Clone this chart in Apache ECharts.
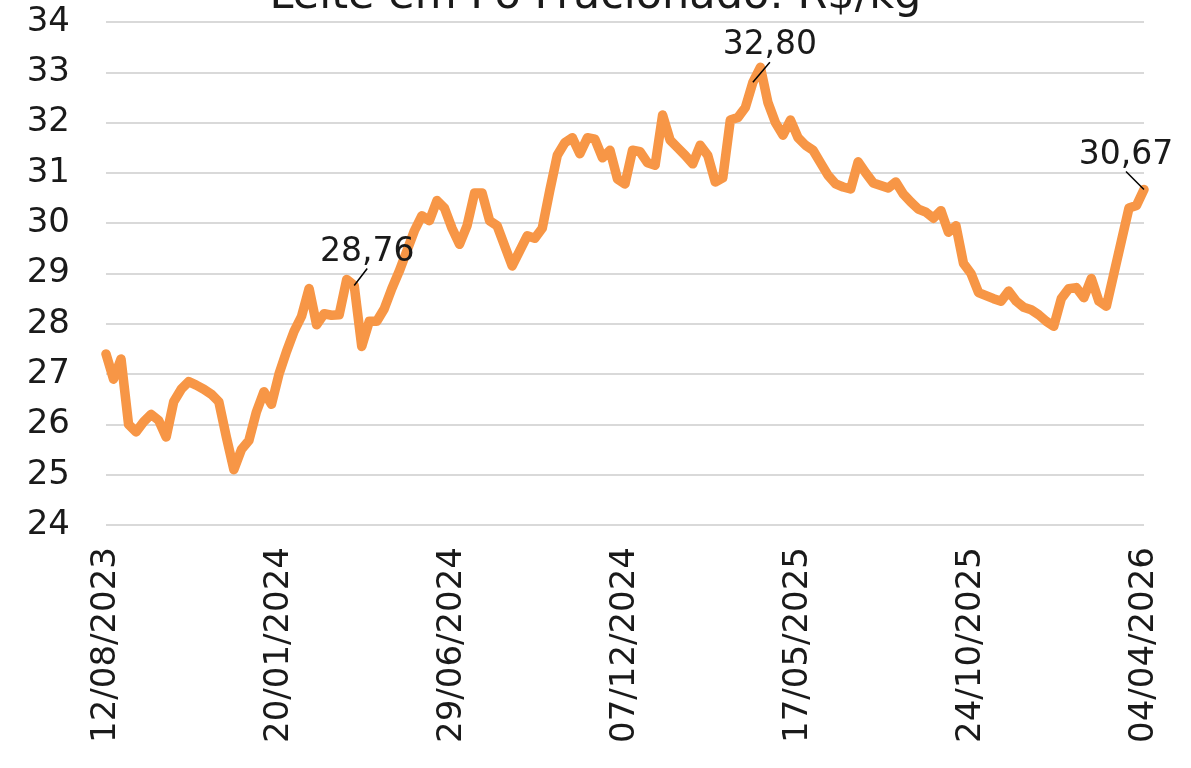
<!DOCTYPE html>
<html>
<head>
<meta charset="utf-8">
<script src="https://cdn.jsdelivr.net/npm/echarts@6/dist/echarts.min.js"></script>
<style>html,body{margin:0;padding:0;background:#fff;}#c{width:1191px;height:768px;}</style>
</head>
<body>
<div id="c"></div>
<script>
const titleText = 'Leite em Pó Fracionado: R$/kg';
const startDate = '2023-08-12';
const tickLabels = ['12/08/2023','20/01/2024','29/06/2024','07/12/2024','17/05/2025','24/10/2025','04/04/2026'];
const tickEvery = 23;
const values = [
  27.4, 26.9, 27.3, 26.0, 25.85, 26.05, 26.2, 26.08, 25.75, 26.45,
  26.7, 26.85, 26.78, 26.7, 26.6, 26.45, 25.75, 25.1, 25.5, 25.68,
  26.25, 26.65, 26.4, 27.0, 27.45, 27.85, 28.15, 28.7, 27.98, 28.2,
  28.17, 28.18, 28.88, 28.76, 27.55, 28.05, 28.05, 28.3, 28.7, 29.05,
  29.45, 29.85, 30.15, 30.05, 30.45, 30.3, 29.9, 29.58, 29.95, 30.6,
  30.6, 30.05, 29.95, 29.55, 29.15, 29.45, 29.75, 29.7, 29.9, 30.65,
  31.35, 31.6, 31.7, 31.38, 31.7, 31.67, 31.3, 31.45, 30.88, 30.78,
  31.45, 31.42, 31.2, 31.15, 32.15, 31.65, 31.5, 31.35, 31.18, 31.55,
  31.35, 30.82, 30.9, 32.05, 32.1, 32.3, 32.8, 33.1, 32.4, 32.0,
  31.75, 32.05, 31.7, 31.55, 31.45, 31.2, 30.95, 30.78, 30.72, 30.68,
  31.22, 31.0, 30.8, 30.75, 30.7, 30.82, 30.58, 30.42, 30.28, 30.22,
  30.1, 30.25, 29.82, 29.95, 29.2, 29.0, 28.62, 28.56, 28.5, 28.45,
  28.65, 28.45, 28.33, 28.28, 28.18, 28.05, 27.95, 28.5, 28.7, 28.72,
  28.52, 28.9, 28.45, 28.35, 29.0, 29.65, 30.3, 30.35, 30.67
];
const annotated = [33, 86, 138];
const yMin = 24, yMax = 34, yStep = 1;

// categories (weekly)
const categories = [];
{
  const d0 = new Date(startDate + 'T12:00:00Z');
  for (let i = 0; i < values.length; i++) {
    const d = new Date(d0.getTime() + i * 7 * 86400000);
    const s = String(d.getUTCDate()).padStart(2,'0') + '/' + String(d.getUTCMonth()+1).padStart(2,'0') + '/' + d.getUTCFullYear();
    categories.push(s);
  }
  tickLabels.forEach((t, k) => { if (k * tickEvery < categories.length) categories[k * tickEvery] = t; });
}

const fmt = v => v.toFixed(2).replace('.', ',');
const labelShift = {33: [13, -12], 86: [17, -15], 138: [-18, -13]};

const data = values.map((v, i) => {
  if (annotated.indexOf(i) >= 0) {
    return { value: v, label: { show: true, formatter: fmt(v) }, labelLine: { show: true } };
  }
  return v;
});

const FONT = 'DejaVu Sans';
const chart = echarts.init(document.getElementById('c'), null, {renderer: 'canvas'});
chart.setOption({
  animation: false,
  backgroundColor: '#ffffff',
  title: {
    text: titleText,
    left: 'center',
    top: -30,
    textStyle: { fontFamily: FONT, fontSize: 43, fontWeight: 'normal', color: '#1a1a1a' }
  },
  grid: { left: 106, right: 47, top: 22, bottom: 243, containLabel: false },
  xAxis: {
    type: 'category',
    data: categories,
    boundaryGap: false,
    axisLine: { show: false },
    axisTick: { show: false },
    axisLabel: {
      interval: tickEvery - 1,
      rotate: 90,
      margin: 22,
      fontFamily: FONT,
      fontSize: 34,
      color: '#1a1a1a'
    },
    splitLine: { show: false }
  },
  yAxis: {
    type: 'value',
    min: yMin, max: yMax, interval: yStep,
    axisLine: { show: false },
    axisTick: { show: false },
    axisLabel: { margin: 36, fontFamily: FONT, fontSize: 34, color: '#1a1a1a' },
    splitLine: { lineStyle: { color: '#d9d9d9', width: 2 } }
  },
  series: [{
    type: 'line',
    data: data,
    showSymbol: true,
    showAllSymbol: true,
    symbol: 'circle',
    symbolSize: 0.01,
    itemStyle: { color: '#F79646' },
    lineStyle: { color: '#F79646', width: 9.5, join: 'round', cap: 'round' },
    label: { show: false, position: 'top', fontFamily: FONT, fontSize: 33, color: '#1a1a1a' },
    labelLine: { show: true, lineStyle: { color: '#000', width: 1.5 } },
    labelLayout: function (p) {
      const s = labelShift[p.dataIndex];
      if (!s) return {};
      return { dx: s[0], dy: s[1] };
    }
  }]
});
</script>
</body>
</html>
